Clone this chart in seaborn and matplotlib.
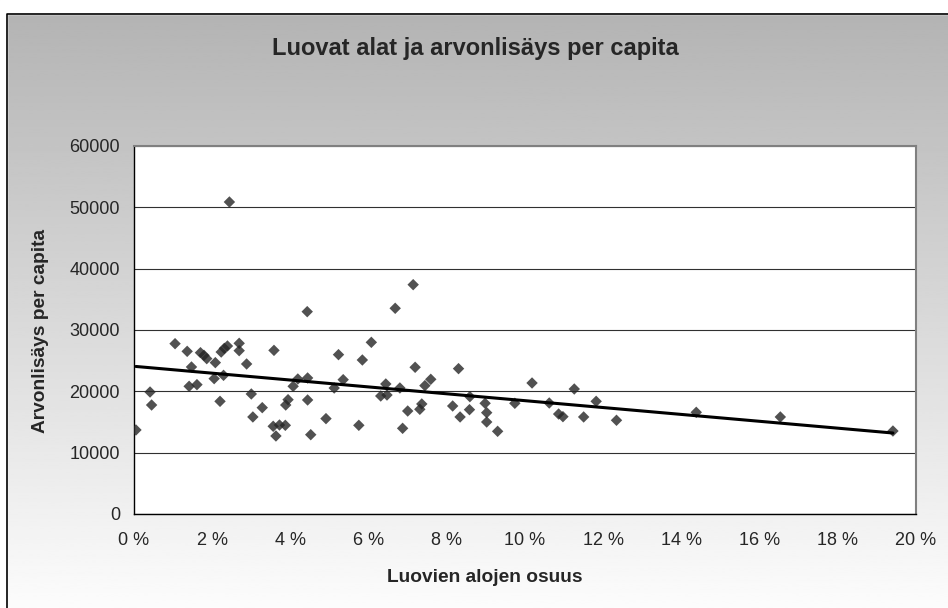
import numpy as np
import pandas as pd
import seaborn as sns
from matplotlib import pyplot as plt
from matplotlib.patches import Rectangle
from matplotlib.ticker import FuncFormatter, MultipleLocator

# luovien alojen osuus (%) ja arvonlisäys per capita, luettu kuvasta
share = [0.05, 0.41, 0.45, 1.05, 1.36, 1.47, 1.41, 1.61, 1.70, 1.79,
	1.86, 2.08, 2.05, 2.20, 2.23, 2.31, 2.39, 2.29, 2.44, 2.69,
	2.69, 2.88, 3.00, 3.04, 3.28, 3.58, 3.56, 3.72, 3.87, 3.63,
	3.88, 3.94, 4.07, 4.19, 4.44, 4.44, 4.52, 4.43, 4.91, 5.12,
	5.23, 5.35, 5.75, 5.84, 6.07, 6.31, 6.44, 6.47, 6.68, 6.80,
	7.14, 7.19, 8.30, 7.59, 7.44, 7.36, 7.31, 7.00, 6.87, 8.15,
	8.34, 8.59, 8.58, 8.98, 9.02, 9.02, 9.30, 9.74, 10.18, 10.62,
	10.86, 10.97, 11.26, 11.50, 11.82, 12.34, 14.38, 16.53, 19.41]
value = [13700, 19890, 17770, 27770, 26520, 23970, 20820, 21090, 26300, 25870,
	25330, 24680, 22070, 18370, 26410, 27010, 27390, 22610, 50870, 27830,
	26630, 24460, 19570, 15820, 17340, 26680, 14300, 14510, 14460, 12720,
	17770, 18640, 20820, 22010, 22180, 18590, 12930, 32990, 15550, 20540,
	25980, 21900, 14460, 25110, 27990, 19240, 21200, 19400, 33540, 20550,
	37390, 23920, 23700, 21960, 20930, 17940, 17070, 16790, 13970, 17610,
	15820, 19130, 17010, 18050, 16520, 15000, 13480, 18050, 21360, 18100,
	16300, 15870, 20380, 15820, 18370, 15280, 16580, 15820, 13530]

title = "Luovat alat ja arvonlisäys per capita"
x_label = "Luovien alojen osuus"
y_label = "Arvonlisäys per capita"

sns.set_style("white")
plt.rcParams["font.family"] = ["Liberation Sans", "DejaVu Sans"]

df = pd.DataFrame({"osuus": share, "arvonlisays": value})

fig = plt.figure(figsize=(9.48, 6.08), dpi=100)

# harmaa liukuväritausta ja kehys
bg = fig.add_axes([0, 0, 1, 1], zorder=-10)
grad = np.linspace(0, 1, 256).reshape(-1, 1)
bg.imshow(grad, extent=[0, 1, 0, 1], aspect="auto", cmap="gray",
	vmin=-2.4, vmax=1.04, origin="upper")
bg.set_xlim(0, 1)
bg.set_ylim(0, 1)
bg.axis("off")
bg.add_patch(Rectangle((0, 0), 7 / 948, 1, color="white", zorder=2))
bg.add_patch(Rectangle((0, 1 - 14 / 608), 1, 14 / 608, color="white", zorder=2))
bg.plot([7 / 948, 7 / 948, 1], [0, 1 - 14 / 608, 1 - 14 / 608], color="black", lw=1.2, zorder=3)

ax = fig.add_axes([134 / 948, 1 - 514 / 608, 782 / 948, 368 / 608])
ax.set_facecolor("white")
sns.regplot(data=df, x="osuus", y="arvonlisays", ax=ax, ci=None, marker="D",
	scatter_kws={"s": 34, "color": "#262626", "edgecolor": "none", "zorder": 3},
	line_kws={"color": "black", "lw": 2.2, "zorder": 4})

ax.set_xlim(0, 20)
ax.set_ylim(0, 60000)
ax.xaxis.set_major_locator(MultipleLocator(2))
ax.yaxis.set_major_locator(MultipleLocator(10000))
ax.xaxis.set_major_formatter(FuncFormatter(lambda v, p: f"{int(round(v))} %"))
ax.yaxis.grid(True, color="#303030", lw=0.8)
ax.set_axisbelow(True)

for side in ["top", "right"]:
	ax.spines[side].set_color("#808080")
	ax.spines[side].set_linewidth(1.5)
for side in ["left", "bottom"]:
	ax.spines[side].set_color("black")
	ax.spines[side].set_linewidth(1.0)

ax.tick_params(axis="both", direction="out", length=4, width=1, color="black",
	labelsize=13, pad=6)
ax.tick_params(axis="x", pad=9)
ax.set_xlabel("")
ax.set_ylabel("")

fig.text(475 / 948, 1 - 48 / 608, title, ha="center", va="center",
	fontsize=17, fontweight="bold")
fig.text(485 / 948, 1 - 578 / 608, x_label, ha="center", va="center",
	fontsize=13.8, fontweight="bold")
fig.text(41 / 948, 1 - 331 / 608, y_label, ha="center", va="center",
	rotation=90, fontsize=13.8, fontweight="bold")

fig.savefig("out.png", dpi=100)
